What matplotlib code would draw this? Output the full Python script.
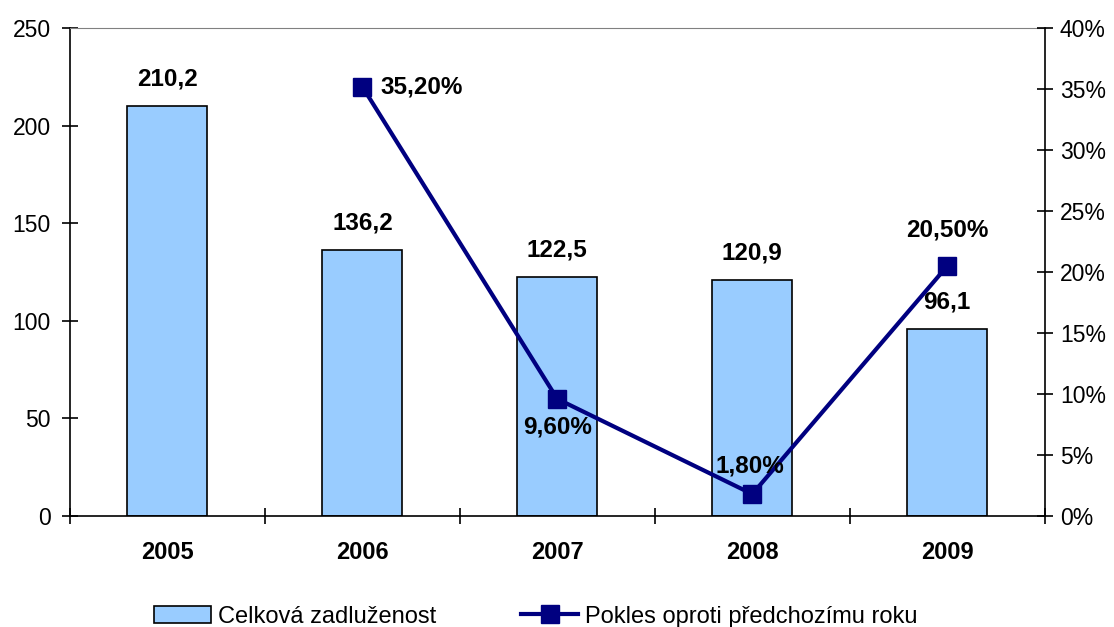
import numpy as np
import matplotlib.pyplot as plt
from matplotlib.ticker import FuncFormatter

plt.rcParams['font.family'] = ['Liberation Sans', 'DejaVu Sans']

years = ['2005', '2006', '2007', '2008', '2009']
debt = [210.2, 136.2, 122.5, 120.9, 96.1]
debt_labels = ['210,2', '136,2', '122,5', '120,9', '96,1']
drop_years = [1, 2, 3, 4]
drop = [0.352, 0.096, 0.018, 0.205]
drop_labels = ['35,20%', '9,60%', '1,80%', '20,50%']

fig = plt.figure(figsize=(11.14, 6.27), dpi=100)
ax = fig.add_axes([0.0628, 0.177, 0.875, 0.778])
x = np.arange(len(years))

bars = ax.bar(x, debt, width=0.41, color='#99CCFF', edgecolor='black', linewidth=1.2,
              label='Celková zadluženost', zorder=2)
for xi, v, lab in zip(x, debt, debt_labels):
    ax.annotate(lab, (xi, v), xytext=(0, 11), textcoords='offset points',
                ha='center', va='bottom', fontsize=17.5, fontweight='bold')

ax.set_xlim(-0.5, 4.5)
ax.set_ylim(0, 250)
ax.set_yticks(np.arange(0, 251, 50))
ax.set_xticks(x)
ax.set_xticklabels(years, fontsize=17, fontweight='bold')
ax.tick_params(axis='x', length=0, pad=18)
ax.set_xticks(np.arange(-0.5, 4.6, 1), minor=True)
ax.tick_params(axis='x', which='minor', direction='inout', length=12, width=1.2)
ax.tick_params(axis='y', direction='inout', length=12, width=1.2, labelsize=16.5, pad=8)
ax.spines['top'].set_color('#808080')
ax.spines['left'].set_linewidth(1.2)
ax.spines['bottom'].set_linewidth(1.2)
ax.spines['right'].set_visible(False)

ax2 = ax.twinx()
line, = ax2.plot(drop_years, drop, color='#000080', linewidth=3, marker='s',
                 markersize=13, label='Pokles oproti předchozímu roku', zorder=3)
ax2.set_ylim(0, 0.4)
ax2.set_yticks(np.arange(0, 0.41, 0.05))
ax2.yaxis.set_major_formatter(FuncFormatter(lambda v, p: f'{v*100:.0f}%'))
ax2.tick_params(axis='y', direction='inout', length=12, width=1.2, labelsize=16.5, pad=5)
ax2.spines['right'].set_linewidth(1.2)
ax2.spines['top'].set_visible(False)
ax2.spines['left'].set_visible(False)
ax2.spines['bottom'].set_visible(False)

offsets = [(13, 0, 'left', 'center'), (0, -12, 'center', 'top'),
           (-2, 12, 'center', 'bottom'), (0, 18, 'center', 'bottom')]
for xi, v, lab, (dx, dy, ha, va) in zip(drop_years, drop, drop_labels, offsets):
    ax2.annotate(lab, (xi, v), xytext=(dx, dy), textcoords='offset points',
                 ha=ha, va=va, fontsize=17.5, fontweight='bold')

fig.legend([bars, line], ['Celková zadluženost', 'Pokles oproti předchozímu roku'],
           loc='lower center', bbox_to_anchor=(0.481, -0.035), ncol=2, frameon=False,
           fontsize=17, columnspacing=3.6, handlelength=2.4, handletextpad=0.3)

fig.savefig('out.png', dpi=100)
